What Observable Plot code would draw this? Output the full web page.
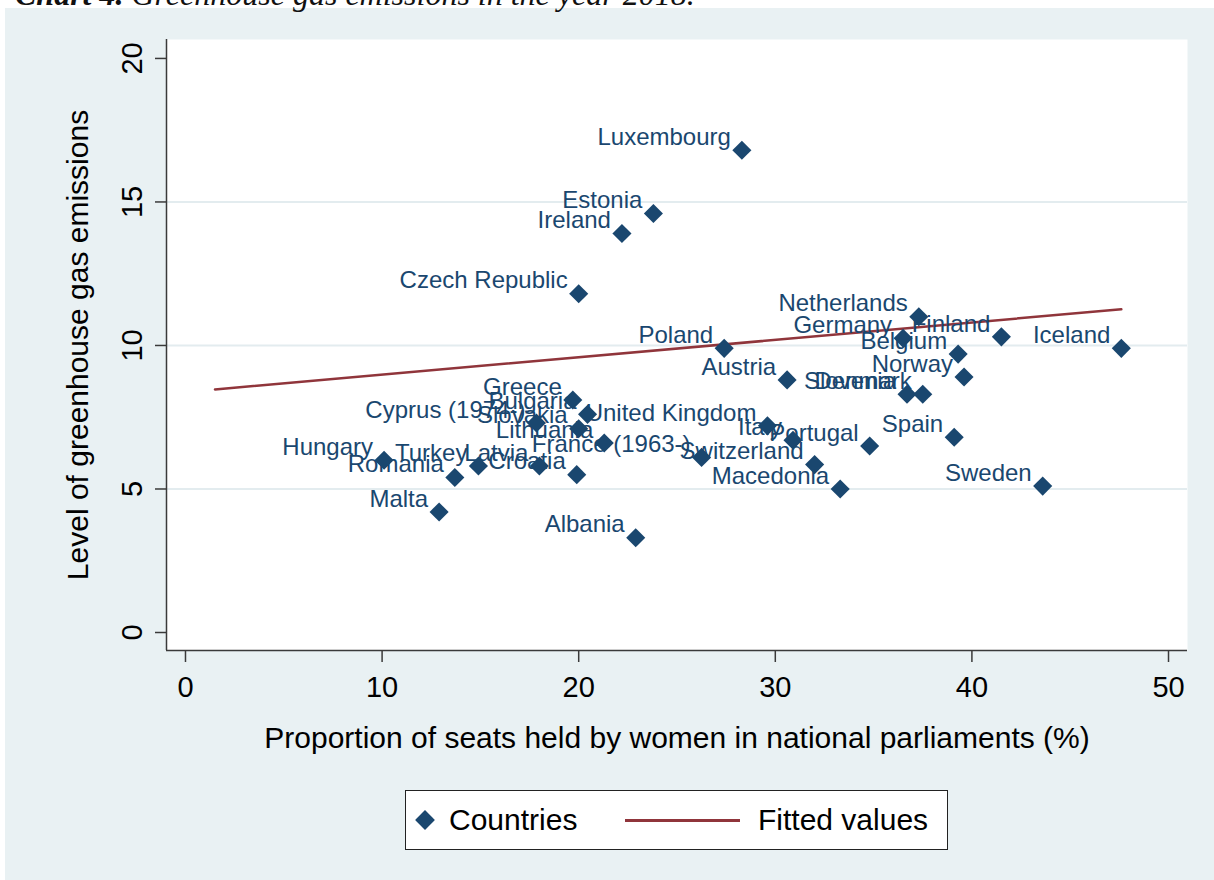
<!DOCTYPE html>
<html>
<head>
<meta charset="utf-8">
<script src="https://cdn.jsdelivr.net/npm/d3@7"></script>
<script src="https://cdn.jsdelivr.net/npm/@observablehq/plot@0.6"></script>
<style>
  html, body { margin: 0; padding: 0; background: #ffffff; overflow: hidden; }
  body { width: 1214px; height: 880px; position: relative; font-family: "Liberation Sans", Arial, sans-serif; }
  #caption {
    position: absolute; left: 15px; top: -22px; white-space: nowrap;
    font: italic 32px/32px "Liberation Serif", "Times New Roman", serif; color: #111; z-index: 2;
  }
  #panel {
    position: absolute; left: 5px; top: 8px; width: 1209px; height: 872px;
    background: #e9f1f3;
  }
  #chart { position: absolute; left: 0; top: 0; }
  #legend {
    position: absolute; left: 400px; top: 782px; width: 543px; height: 60px;
    box-sizing: border-box; background: #fff; border: 1.5px solid #222;
  }
  #legend .sym {
    position: absolute; left: 12px; top: 22px; width: 14px; height: 14px;
    background: #1a476f; transform: rotate(45deg);
  }
  #legend .txt { position: absolute; top: 9px; font-size: 30px; line-height: 40px; color: #000; }
  #legend .ln { position: absolute; left: 219px; top: 28px; width: 115px; height: 2.5px; background: #90353b; }
</style>
</head>
<body>
<div id="caption"><b>Chart 4.</b> Greenhouse gas emissions in the year 2018.</div>
<div id="panel">
  <div id="chart"></div>
  <div id="legend">
    <div class="sym"></div>
    <div class="txt" style="left:43px">Countries</div>
    <div class="ln"></div>
    <div class="txt" style="left:352px">Fitted values</div>
  </div>
</div>
<script>
// Countries: share of parliament seats held by women (%) and greenhouse gas emissions
const countries = [
  "Luxembourg", "Estonia", "Ireland", "Czech Republic", "Poland", "Netherlands",
  "Germany", "Finland", "Iceland", "Belgium", "Norway", "Austria", "Slovenia",
  "Denmark", "Greece", "Bulgaria", "Cyprus (1974-)", "Slovakia", "United Kingdom",
  "Lithuania", "France (1963-)", "Italy", "Portugal", "Spain", "Switzerland",
  "Macedonia", "Sweden", "Hungary", "Turkey", "Latvia", "Croatia", "Romania",
  "Malta", "Albania"
];
const womenShare = [
  28.3, 23.8, 22.2, 20.0, 27.4, 37.3,
  36.5, 41.5, 47.6, 39.3, 39.6, 30.6, 36.7,
  37.5, 19.7, 20.45, 17.85, 20.0, 29.6,
  21.3, 26.25, 30.9, 34.8, 39.1, 32.0,
  33.3, 43.6, 10.1, 14.9, 18.0, 19.9, 13.7,
  12.9, 22.9
];
const emissions = [
  16.8, 14.6, 13.9, 11.8, 9.9, 11.0,
  10.25, 10.3, 9.9, 9.7, 8.9, 8.8, 8.3,
  8.3, 8.1, 7.6, 7.3, 7.1, 7.2,
  6.6, 6.1, 6.7, 6.5, 6.8, 5.85,
  5.0, 5.1, 6.0, 5.8, 5.8, 5.5, 5.4,
  4.2, 3.3
];

// Linear fit (fitted values) at the ends of its range
const fitX = [1.5, 47.6];
const fitY = [8.47, 11.26];

// Axis ticks and titles
const xTicks = [0, 10, 20, 30, 40, 50];
const yTicks = [0, 5, 10, 15, 20];
const yGrid = [5, 10, 15];
const xTitle = "Proportion of seats held by women in national parliaments (%)";
const yTitle = "Level of greenhouse gas emissions";

const xDomain = [-0.966, 50.966];
const yDomain = [-0.627, 20.66];

const points = countries.map((name, i) => ({name, x: womenShare[i], y: emissions[i]}));
const fit = fitX.map((x, i) => ({x, y: fitY[i]}));

const navy = "#1a476f";
const axisColor = "#3a3a3a";
const W = 1209, H = 772;
const centered = {textAnchor: "middle", lineAnchor: "middle", fill: "#000"};

const chart = Plot.plot({
  width: W,
  height: H,
  marginLeft: 161,
  marginRight: 27,
  marginTop: 31,
  marginBottom: H - 642,
  x: {domain: xDomain},
  y: {domain: yDomain},
  style: {background: "transparent", fontFamily: "'Liberation Sans', Arial, sans-serif", overflow: "visible"},
  marks: [
    Plot.frame({fill: "white", stroke: null}),
    Plot.ruleY(yGrid, {stroke: "#e3ecef", strokeWidth: 2}),
    Plot.axisX({ticks: xTicks, tickSize: 12, tickFormat: () => "", label: null, stroke: axisColor, strokeWidth: 1.5}),
    Plot.axisY({ticks: yTicks, tickSize: 11, tickFormat: () => "", label: null, stroke: axisColor, strokeWidth: 1.5}),
    Plot.ruleX([xDomain[0]], {stroke: axisColor, strokeWidth: 1.5}),
    Plot.ruleY([yDomain[0]], {stroke: axisColor, strokeWidth: 1.5}),
    Plot.text(xTicks, {x: d => d, frameAnchor: "bottom", dy: 37, fontSize: 29, ...centered}),
    Plot.text(yTicks, {y: d => d, frameAnchor: "left", dx: -34, rotate: -90, fontSize: 29, ...centered}),
    Plot.text([xTitle], {frameAnchor: "bottom", dy: 88, fontSize: 30, ...centered}),
    Plot.text([yTitle], {frameAnchor: "left", dx: -88, rotate: -90, fontSize: 30, ...centered}),
    Plot.line(fit, {x: "x", y: "y", stroke: "#90353b", strokeWidth: 2.5}),
    Plot.dot(points, {x: "x", y: "y", symbol: "diamond2", r: 8.6, fill: navy, stroke: null}),
    Plot.text(points, {x: "x", y: "y", text: "name", textAnchor: "end", dx: -11, dy: -13, fontSize: 24, fill: navy})
  ]
});
document.getElementById("chart").appendChild(chart);
</script>
</body>
</html>
